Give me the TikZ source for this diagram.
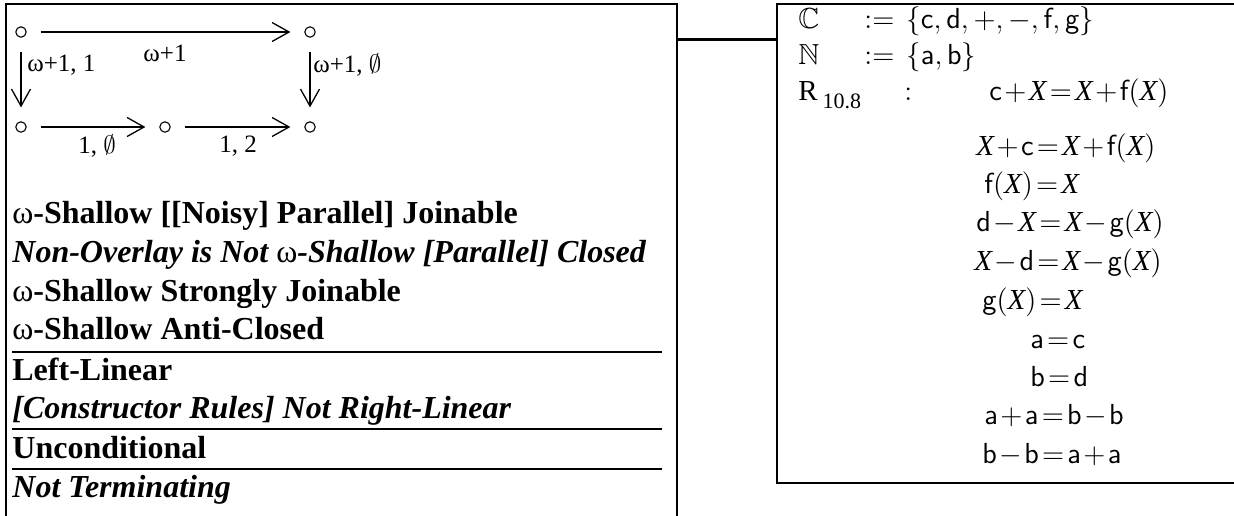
\documentclass[tikz,border=0pt]{standalone}
\usepackage{fix-cm}
\usepackage{amssymb}
\usepackage{fontspec}
\setmainfont{Liberation Serif}
\usetikzlibrary{arrows.meta}

% shorthand for the serif italic variable used in the rules
\newcommand{\vX}{\mbox{\itshape X}}
\newcommand{\sfc}[1]{\mathsf{#1}}
\newcommand{\om}{{\mdseries\upshape ω}}
% tight spacing around + and = in the rule list
\newcommand{\tightmath}{\medmuskip=1.5mu\thickmuskip=2mu}

\begin{document}
\begin{tikzpicture}[x=0.5pt,y=-0.5pt,
  frame/.style={line width=1.1pt},
  rulesep/.style={line width=1pt},
  vtx/.style={circle,draw,line width=0.55pt,minimum size=5.2pt,inner sep=0pt,outer sep=7.2pt},
  arr/.style={line width=0.65pt,-{Straight Barb[length=8.5pt,width=9.5pt,line width=0.65pt]}},
  lbl/.style={inner sep=0pt,font=\fontsize{12.5}{14}\selectfont},
  prop/.style={anchor=base west,inner sep=0pt,font=\fontsize{16}{18}\selectfont\bfseries},
  propit/.style={prop,font=\fontsize{16}{18}\selectfont\bfseries\itshape},
  eq/.style={anchor=base west,inner sep=0pt,font=\fontsize{14.5}{17}\selectfont\tightmath},
]
\useasboundingbox (0,0) rectangle (1234,515);

% ---------- left panel frame (open at the bottom) ----------
\coordinate (lbl0) at (6,516);
\coordinate (ltl) at (6,4);
\coordinate (ltr) at (677,4);
\coordinate (lbr) at (677,516);
\draw[frame] (lbl0) -- (ltl) -- (ltr) -- (lbr);

% ---------- right panel frame (runs off to the right) ----------
\coordinate (rtr) at (1236,4);
\coordinate (rtl) at (777,4);
\coordinate (rbl) at (777,483);
\coordinate (rbr) at (1236,483);
\draw[frame] (rtr) -- (rtl) -- (rbl) -- (rbr);

% link between the two panels
\coordinate (linkA) at (677,39.5);
\coordinate (linkB) at (777,39.5);
\draw[frame] (linkA) -- (linkB);

% ---------- commuting diagram ----------
\node[vtx] (a) at (21,32) {};
\node[vtx] (b) at (310,32) {};
\node[vtx] (c) at (21,127) {};
\node[vtx] (d) at (165,127) {};
\node[vtx] (e) at (310,127) {};

\draw[arr] (a) -- (b);
\draw[arr] (a) -- (c);
\draw[arr] (b) -- (e);
\draw[arr] (c) -- (d);
\draw[arr] (d) -- (e);

\node[lbl] (lab) at (165,53) {ω+1};
\node[lbl,anchor=west] (lac) at (27,65) {ω+1, 1};
\node[lbl,anchor=west] (lbe) at (313,65) {ω+1, $\emptyset$};
\node[lbl] (lcd) at (97,146) {1, $\emptyset$};
\node[lbl] (lde) at (238,146) {1, 2};

% ---------- property list ----------
\node[prop]   (p1) at (12,223) {\om-Shallow [[Noisy] Parallel] Joinable};
\node[propit] (p2) at (12,262) {Non-Overlay is Not \om-Shallow [Parallel] Closed};
\node[prop]   (p3) at (12,301) {\om-Shallow Strongly Joinable};
\node[prop]   (p4) at (12,339) {\om-Shallow Anti-Closed};
\coordinate (s1a) at (12,352); \coordinate (s1b) at (662,352);
\draw[rulesep] (s1a) -- (s1b);
\node[prop]   (p5) at (12,380) {Left-Linear};
\node[propit] (p6) at (12,418) {[Constructor Rules] Not Right-Linear};
\coordinate (s2a) at (12,429); \coordinate (s2b) at (662,429);
\draw[rulesep] (s2a) -- (s2b);
\node[prop]   (p7) at (12,458) {Unconditional};
\coordinate (s3a) at (12,469); \coordinate (s3b) at (662,469);
\draw[rulesep] (s3a) -- (s3b);
\node[propit] (p8) at (12,497) {Not Terminating};

% ---------- signature and rules ----------
\node[eq] (cset)  at (798,28)  {$\mathbb{C}$};
\node[eq] (cdef)  at (864,28)  {$:=$};
\node[eq] (cval)  at (906,28)  {$\{\sfc{c},\sfc{d},+,-,\sfc{f},\sfc{g}\}$};
\node[eq] (nset)  at (798,64)  {$\mathbb{N}$};
\node[eq] (ndef)  at (864,64)  {$:=$};
\node[eq] (nval)  at (906,64)  {$\{\sfc{a},\sfc{b}\}$};
\node[eq] (rname) at (798,100) {R\,\raisebox{-0.3em}{\fontsize{11}{12}\selectfont 10.8}};
\node[eq] (rdef)  at (904,100) {$:$};

\node[eq] (e1)  at (989,100) {$\sfc{c}+\vX=\vX+\sfc{f}(\vX)$};
\node[eq] (e2)  at (976,155) {$\vX+\sfc{c}=\vX+\sfc{f}(\vX)$};
\node[eq] (e3)  at (984,193) {$\sfc{f}(\vX)=\vX$};
\node[eq] (e4)  at (976,231) {$\sfc{d}-\vX=\vX-\sfc{g}(\vX)$};
\node[eq] (e5)  at (974,270) {$\vX-\sfc{d}=\vX-\sfc{g}(\vX)$};
\node[eq] (e6)  at (982,309) {$\sfc{g}(\vX)=\vX$};
\node[eq] (e7)  at (1030,348) {$\sfc{a}=\sfc{c}$};
\node[eq] (e8)  at (1030,386) {$\sfc{b}=\sfc{d}$};
\node[eq] (e9)  at (984,424) {$\sfc{a}+\sfc{a}=\sfc{b}-\sfc{b}$};
\node[eq] (e10) at (982,463) {$\sfc{b}-\sfc{b}=\sfc{a}+\sfc{a}$};
\end{tikzpicture}
\end{document}
